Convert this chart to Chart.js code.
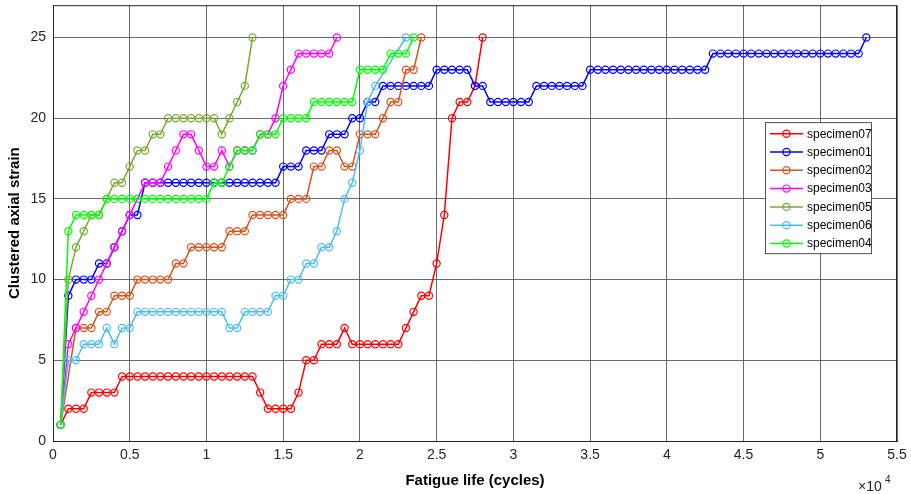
<!DOCTYPE html>
<html>
<head>
<meta charset="utf-8">
<script src="https://cdn.jsdelivr.net/npm/chart.js@4/dist/chart.umd.min.js"></script>
<style>
  html, body { margin: 0; padding: 0; background: #ffffff; }
  #wrap { width: 911px; height: 494px; }
</style>
</head>
<body>
<div id="wrap"><canvas id="c" width="911" height="494"></canvas></div>
<script>
// Sampling grid (cycles) shared by all specimens
const cycles = [
  500, 1000, 1500, 2000, 2500, 3000, 3500, 4000, 4500, 5000,
  5500, 6000, 6500, 7000, 7500, 8000, 8500, 9000, 9500, 10000,
  10500, 11000, 11500, 12000, 12500, 13000, 13500, 14000, 14500, 15000,
  15500, 16000, 16500, 17000, 17500, 18000, 18500, 19000, 19500, 20000,
  20500, 21000, 21500, 22000, 22500, 23000, 23500, 24000, 24500, 25000,
  25500, 26000, 26500, 27000, 27500, 28000, 28500, 29000, 29500, 30000,
  30500, 31000, 31500, 32000, 32500, 33000, 33500, 34000, 34500, 35000,
  35500, 36000, 36500, 37000, 37500, 38000, 38500, 39000, 39500, 40000,
  40500, 41000, 41500, 42000, 42500, 43000, 43500, 44000, 44500, 45000,
  45500, 46000, 46500, 47000, 47500, 48000, 48500, 49000, 49500, 50000,
  50500, 51000, 51500, 52000, 52500, 53000
];

// Clustered axial strain per specimen (null = no sample at that cycle count)
const specimen07 = [
  1, 2, 2, 2, 3, 3, 3, 3,
  4, 4, 4, 4, 4, 4, 4, 4, 4, 4, 4, 4, 4, 4, 4, 4, 4, 4,
  3, 2, 2, 2, 2, 3, 5, 5, 6, 6, 6, 7,
  6, 6, 6, 6, 6, 6, 6, 7, 8, 9, 9, 11, 14, 20, 21, 21, 22, 25
];
const specimen01 = [
  1, 9, 10, 10, 10, 11, 11, 12, 13, 14, 14,
  16, 16, 16, 16, 16, 16, 16, 16, 16, 16, 16, 16, 16, 16, 16, 16, 16, 16,
  17, 17, 17, 18, 18, 18, 19, 19, 19, 20, 20, 21, 21,
  22, 22, 22, 22, 22, 22, 22, 23, 23, 23, 23, 23, 22, 22,
  21, 21, 21, 21, 21, 21, 22, 22, 22, 22, 22, 22, 22,
  23, 23, 23, 23, 23, 23, 23, 23, 23, 23, 23, 23, 23, 23, 23, 23,
  24, 24, 24, 24, 24, 24, 24, 24, 24, 24, 24, 24, 24, 24, 24, 24, 24, 24, 24, 24,
  25
];
const specimen02 = [
  1, null, 7, 7, 7, 8, 8, 9, 9, 9, 10, 10, 10, 10, 10, 11, 11,
  12, 12, 12, 12, 12, 13, 13, 13, 14, 14, 14, 14, 14, 15, 15, 15,
  17, 17, 18, 18, 17, 17, 19, 19, 19, 20, 21, 21, 23, 23, 25
];
const specimen03 = [
  1, 6, 7, 8, 9, 10, 11, 12, 13, 14, 15, 16, 16, 16, 17, 18, 19, 19,
  18, 17, 17, 18, 17, 18, 18, 18, 19, 19, 20, 22, 23, 24, 24, 24, 24, 24, 25
];
const specimen05 = [
  1, 10, 12, 13, 14, 14, 15, 16, 16, 17, 18, 18, 19, 19,
  20, 20, 20, 20, 20, 20, 20, 19, 20, 21, 22, 25
];
const specimen06 = [
  1, 5, 5, 6, 6, 6, 7, 6, 7, 7,
  8, 8, 8, 8, 8, 8, 8, 8, 8, 8, 8, 8, 7, 7, 8, 8, 8, 8,
  9, 9, 10, 10, 11, 11, 12, 12, 13, 15, 16, 18, 21, 22, null, null, null, 25
];
const specimen04 = [
  1, 13, 14, 14, 14, 14,
  15, 15, 15, 15, 15, 15, 15, 15, 15, 15, 15, 15, 15, 15,
  16, 16, 17, 18, 18, 18, 19, 19, 19, 20, 20, 20, 20,
  21, 21, 21, 21, 21, 21, 23, 23, 23, 23, 24, 24, 24, 25
];

const xTicks = [0, 0.5, 1, 1.5, 2, 2.5, 3, 3.5, 4, 4.5, 5, 5.5];
const yTicks = [0, 5, 10, 15, 20, 25];

// Legend order (plot order); later entries are drawn on top
const series = [
  { name: 'specimen07', values: specimen07, color: '#FF0000' },
  { name: 'specimen01', values: specimen01, color: '#0000FF' },
  { name: 'specimen02', values: specimen02, color: '#D95319' },
  { name: 'specimen03', values: specimen03, color: '#FF00FF' },
  { name: 'specimen05', values: specimen05, color: '#77AC30' },
  { name: 'specimen06', values: specimen06, color: '#4DBEEE' },
  { name: 'specimen04', values: specimen04, color: '#00FF00' }
];

const toPoints = vals => vals.map((v, i) => ({ x: cycles[i], y: v }));

// Chart.js paints dataset 0 last, so reverse to keep the last-plotted specimen on top
const datasets = series.slice().reverse().map(s => ({
  label: s.name,
  data: toPoints(s.values),
  borderColor: s.color,
  backgroundColor: 'rgba(0,0,0,0)',
  borderWidth: 1.5,
  pointStyle: 'circle',
  pointRadius: 3.6,
  pointBorderWidth: 1.2,
  pointBorderColor: s.color,
  pointBackgroundColor: 'rgba(0,0,0,0)',
  spanGaps: true,
  tension: 0
}));

const FONT = "'Liberation Sans', Arial, Helvetica, sans-serif";
const AXIS_COLOR = '#262626';
const GRID_COLOR = 'rgba(80,80,80,0.85)';

// Box frame, inset legend and exponent label
const framePlugin = {
  id: 'frame',
  afterDraw(chart) {
    const ctx = chart.ctx;
    const a = chart.chartArea;
    ctx.save();
    ctx.strokeStyle = AXIS_COLOR;
    ctx.lineWidth = 1;
    ctx.strokeRect(a.left + 0.5, a.top + 0.5, a.right - a.left - 1, a.bottom - a.top);

    // legend
    const lx = a.right - 132, ly = a.top + 117, lw = 106, lh = 131;
    ctx.fillStyle = '#ffffff';
    ctx.fillRect(lx, ly, lw, lh);
    ctx.strokeStyle = AXIS_COLOR;
    ctx.lineWidth = 0.8;
    ctx.strokeRect(lx + 0.5, ly + 0.5, lw, lh);
    ctx.font = '12px ' + FONT;
    ctx.textBaseline = 'middle';
    ctx.textAlign = 'left';
    series.forEach((s, k) => {
      const yy = ly + 11.5 + k * 18.3;
      ctx.strokeStyle = s.color;
      ctx.lineWidth = 1.5;
      ctx.beginPath();
      ctx.moveTo(lx + 5, yy);
      ctx.lineTo(lx + 38, yy);
      ctx.stroke();
      ctx.lineWidth = 1.2;
      ctx.beginPath();
      ctx.arc(lx + 21.5, yy, 3.6, 0, Math.PI * 2);
      ctx.stroke();
      ctx.fillStyle = '#000000';
      ctx.fillText(s.name, lx + 42, yy + 0.5);
    });

    // x10^4 multiplier
    ctx.fillStyle = AXIS_COLOR;
    ctx.textBaseline = 'alphabetic';
    ctx.font = '14px ' + FONT;
    ctx.fillText('\u00d710', a.right - 39, a.bottom + 50);
    ctx.font = '10px ' + FONT;
    ctx.fillText('4', a.right - 12, a.bottom + 42);
    ctx.restore();
  }
};

new Chart(document.getElementById('c'), {
  type: 'line',
  data: { datasets },
  options: {
    responsive: false,
    devicePixelRatio: 1,
    animation: false,
    events: [],
    layout: { padding: { top: 5, right: 14, left: 0, bottom: 0 } },
    plugins: { legend: { display: false }, tooltip: { enabled: false } },
    scales: {
      x: {
        type: 'linear',
        min: 0,
        max: 55000,
        afterBuildTicks: s => { s.ticks = xTicks.map(v => ({ value: v * 10000 })); },
        afterFit: s => { s.height = 53; s.paddingLeft = 0; s.paddingRight = 0; },
        ticks: {
          callback: v => String(v / 10000),
          font: { family: FONT, size: 14 },
          color: AXIS_COLOR,
          padding: 6,
          maxRotation: 0,
          autoSkip: false
        },
        grid: { color: GRID_COLOR, lineWidth: 1, drawTicks: false },
        border: { display: true, color: AXIS_COLOR, width: 1 },
        title: {
          display: true,
          text: 'Fatigue life (cycles)',
          font: { family: FONT, size: 15, weight: 'bold' },
          color: '#000000',
          padding: { top: 2, bottom: 4 }
        }
      },
      y: {
        type: 'linear',
        min: 0,
        max: 27,
        afterBuildTicks: s => { s.ticks = yTicks.map(v => ({ value: v })); },
        afterFit: s => { s.width = 53; s.paddingTop = 0; s.paddingBottom = 0; },
        ticks: {
          font: { family: FONT, size: 14 },
          color: AXIS_COLOR,
          padding: 7
        },
        grid: { color: GRID_COLOR, lineWidth: 1, drawTicks: false },
        border: { display: true, color: AXIS_COLOR, width: 1 },
        title: {
          display: true,
          text: 'Clustered axial strain',
          font: { family: FONT, size: 15, weight: 'bold' },
          color: '#000000',
          padding: { top: 6, bottom: 2 }
        }
      }
    }
  },
  plugins: [framePlugin]
});
</script>
</body>
</html>
